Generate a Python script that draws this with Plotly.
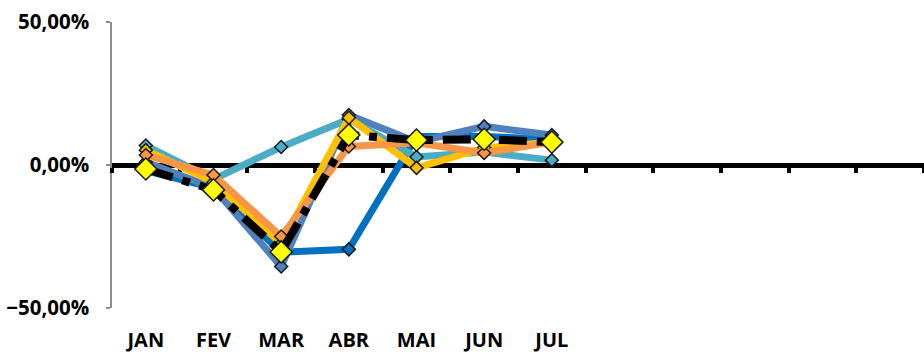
import plotly.graph_objects as go

months = ["JAN", "FEV", "MAR", "ABR", "MAI", "JUN", "JUL", "AGO", "SET", "OUT", "NOV", "DEZ"]
month_labels = ["JAN", "FEV", "MAR", "ABR", "MAI", "JUN", "JUL", "", "", "", "", ""]
x_data = months[:7]

serie_azul_escuro = [-0.02, -0.08, -0.305, -0.295, 0.10, 0.10, 0.09]
serie_azul = [0.01, -0.08, -0.355, 0.175, 0.08, 0.135, 0.105]
serie_turquesa = [0.068, -0.05, 0.063, 0.16, 0.028, 0.045, 0.017]
serie_dourado = [0.052, -0.06, -0.275, 0.165, -0.01, 0.06, 0.08]
serie_laranja = [0.035, -0.035, -0.25, 0.065, 0.078, 0.042, 0.08]
serie_preta = [-0.014, -0.087, -0.304, 0.105, 0.087, 0.09, 0.08]

y_ticks = [-0.5, 0.0, 0.5]

fig = go.Figure()

def add(vals, color, width=7, msize=10, mcolor=None, dash="solid"):
    fig.add_trace(go.Scatter(
        x=x_data, y=vals, mode="lines+markers",
        line=dict(color=color, width=width, dash=dash),
        marker=dict(symbol="diamond", size=msize, color=mcolor or color,
                    line=dict(color="#1a1a1a", width=1.5)),
        showlegend=False, cliponaxis=False,
    ))

add(serie_azul_escuro, "#0070C0")
add(serie_azul, "#4F81BD")
add(serie_turquesa, "#4BACC6")
add(serie_dourado, "#FFC000")
add(serie_laranja, "#F79646")
add(serie_preta, "#000000", width=8, msize=17, mcolor="#FFFF00", dash="28px,10px,8px,10px")

fig.update_layout(
    width=924, height=353,
    margin=dict(l=112, r=0, t=22, b=45),
    plot_bgcolor="white", paper_bgcolor="white",
    separators=",.",
    font=dict(family="Open Sans", size=20, color="black"),
    xaxis=dict(
        type="category", categoryorder="array", categoryarray=months,
        range=[-0.5, 11.5],
        tickmode="array", tickvals=months, ticktext=month_labels,
        anchor="free", position=0.5,
        showline=True, linecolor="black", linewidth=4.5,
        ticks="outside", tickson="boundaries", ticklen=5, tickwidth=3.5, tickcolor="black",
        ticklabelstandoff=155,
        tickfont=dict(family="Open Sans", size=20, color="black", weight="bold"),
        showgrid=False, zeroline=False, layer="below traces", automargin=False,
    ),
    yaxis=dict(
        range=[-0.5, 0.5], tickmode="array", tickvals=y_ticks, tickformat=".2%",
        showline=True, linecolor="#8c8c8c", linewidth=1.5,
        ticks="outside", ticklen=4, tickwidth=1.5, tickcolor="#8c8c8c",
        ticklabelstandoff=13,
        showgrid=True, gridcolor="#d9d9d9", griddash="dash", gridwidth=1,
        zeroline=False, automargin=False,
        tickfont=dict(family="Open Sans", size=20.5, color="black", weight="bold"),
        layer="below traces",
    ),
)

fig.write_html("out.html")
